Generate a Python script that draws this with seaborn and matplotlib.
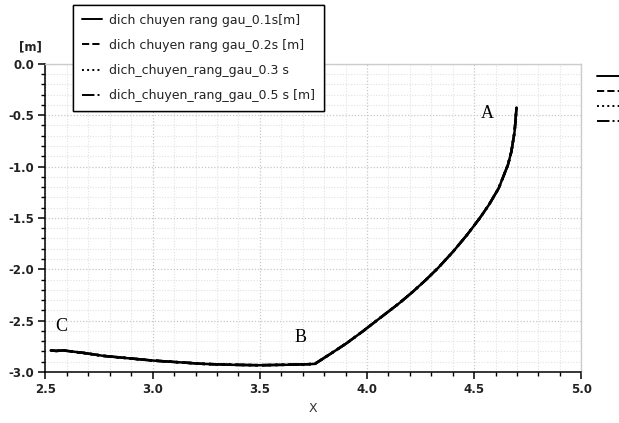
import matplotlib
matplotlib.use("Agg")
import matplotlib.pyplot as plt
from matplotlib.lines import Line2D
from matplotlib.ticker import MultipleLocator, FormatStrFormatter
import seaborn as sns
import pandas as pd

# ---- data ----
x_vals = [2.524, 2.55, 2.583, 2.68, 2.77, 2.88, 3.003, 3.12, 3.236, 3.37, 3.497,
          3.62, 3.718, 3.757, 3.83, 3.905, 3.98, 4.06, 4.151, 4.215, 4.275, 4.331,
          4.402, 4.467, 4.526, 4.569, 4.615, 4.658, 4.674, 4.689, 4.698]
y_vals = [-2.79, -2.795, -2.79, -2.815, -2.843, -2.865, -2.889, -2.905, -2.921, -2.93, -2.934,
          -2.93, -2.925, -2.921, -2.823, -2.72, -2.605, -2.476, -2.33, -2.217, -2.103, -1.989,
          -1.828, -1.665, -1.503, -1.373, -1.21, -0.983, -0.854, -0.659, -0.425]
series_names = ["dich chuyen rang gau_0.1s[m]",
                "dich chuyen rang gau_0.2s [m]",
                "dich_chuyen_rang_gau_0.3 s",
                "dich_chuyen_rang_gau_0.5 s [m]"]
series_styles = ["-", "--", ":", "-."]
point_labels = ["A", "B", "C"]
point_x = [4.561, 3.69, 2.575]
point_y = [-0.48, -2.66, -2.556]

sns.set_theme(style="white")
plt.rcParams['font.family'] = ['DejaVu Sans']

fig = plt.figure(figsize=(6.19, 4.23), dpi=100)
ax = fig.add_axes([0.0735, 0.1206, 0.8655, 0.7284])

handles = []
for name, ls in zip(series_names, series_styles):
    df = pd.DataFrame({"x": x_vals, "y": y_vals})
    sns.lineplot(data=df, x="x", y="y", sort=False, ax=ax, color="black",
                 linewidth=1.8, linestyle=ls, estimator=None)
    handles.append(Line2D([], [], color="black", linestyle=ls, linewidth=1.4))

ax.set_xlim(2.5, 5.0)
ax.set_ylim(-3.0, 0.0)
ax.xaxis.set_major_locator(MultipleLocator(0.5))
ax.xaxis.set_minor_locator(MultipleLocator(0.1))
ax.yaxis.set_major_locator(MultipleLocator(0.5))
ax.yaxis.set_minor_locator(MultipleLocator(0.1))
ax.xaxis.set_major_formatter(FormatStrFormatter("%.1f"))
ax.yaxis.set_major_formatter(FormatStrFormatter("%.1f"))

ax.grid(which="major", color="#c8c8c8", linestyle=(0, (1, 1.5)), linewidth=0.9)
ax.grid(which="minor", color="#e2e2e2", linestyle=(0, (1, 1.5)), linewidth=0.8)
ax.set_axisbelow(True)

ax.tick_params(which="major", direction="out", length=5, width=1.1, colors="black",
               labelsize=8.5, bottom=True, left=True, pad=3)
ax.tick_params(which="minor", direction="out", length=3, width=1.0, colors="black",
               bottom=True, left=True)
for lab in ax.get_xticklabels() + ax.get_yticklabels():
    lab.set_fontweight("bold")
    lab.set_color("#222222")

for side in ["left", "bottom"]:
    ax.spines[side].set_color("black")
    ax.spines[side].set_linewidth(1.1)
for side in ["top", "right"]:
    ax.spines[side].set_color("#cccccc")
    ax.spines[side].set_linewidth(1.0)

ax.set_xlabel("X", fontsize=9, color="#333333", labelpad=4)
ax.set_ylabel("")
fig.text(30 / 619, 1 - 47 / 423, "[m]", fontsize=8.5, fontweight="bold",
         ha="center", va="center", color="#222222")

for lbl, px, py in zip(point_labels, point_x, point_y):
    ax.text(px, py, lbl, fontsize=13, family="Liberation Serif",
            ha="center", va="center", color="black")

leg = fig.legend(handles=handles, labels=series_names, loc="upper left",
                 bbox_to_anchor=(73 / 619, 1 - 5 / 423), frameon=True,
                 fontsize=9, handlelength=1.6, handletextpad=0.6,
                 labelspacing=0.97, borderpad=0.7, borderaxespad=0,
                 fancybox=False)
leg.get_frame().set_edgecolor("black")
leg.get_frame().set_linewidth(1.0)
leg.get_frame().set_alpha(1.0)
for t in leg.get_texts():
    t.set_color("#222222")

leg2 = fig.legend(handles=handles, labels=[""] * 4, loc="upper left",
                  bbox_to_anchor=(587 / 619, 1 - 62 / 423), frameon=False,
                  handlelength=2.2, labelspacing=0.45, fontsize=8)
fig.add_artist(leg)

fig.savefig("out.png", dpi=100)
